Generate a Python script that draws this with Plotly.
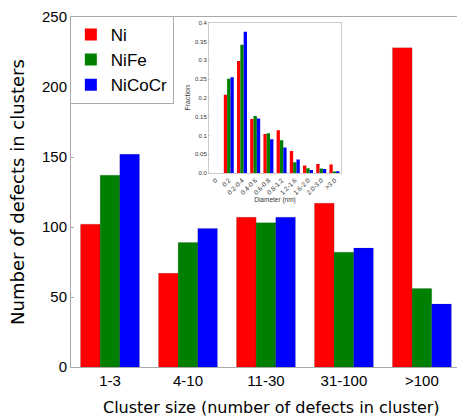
import plotly.graph_objects as go

# Main chart: defects per cluster-size bin
cluster_sizes = ["1-3", "4-10", "11-30", "31-100", ">100"]
ni_counts = [102, 67, 107, 117, 228]
nife_counts = [137, 89, 103, 82, 56]
nicocr_counts = [152, 99, 107, 85, 45]

# Inset: cluster diameter distribution
diameter_bins = ["0", "0.2", "0.2-0.4", "0.4-0.6", "0.6-0.8", "0.8-1.2",
                 "1.2-1.6", "1.6-2.0", "2.0-3.0", ">3.0"]
ni_frac = [0, 0.208, 0.298, 0.144, 0.104, 0.114, 0.059, 0.020, 0.024, 0.023]
nife_frac = [0, 0.251, 0.341, 0.152, 0.106, 0.087, 0.029, 0.013, 0.012, 0.002]
nicocr_frac = [0, 0.255, 0.376, 0.145, 0.090, 0.068, 0.036, 0.008, 0.011, 0.005]

fraction_ticks = [0, 0.05, 0.1, 0.15, 0.2, 0.25, 0.3, 0.35, 0.4]
fraction_labels = ["0.0", "0.05", "0.1", "0.15", "0.2", "0.25", "0.3", "0.35", "0.4"]

names = ["Ni", "NiFe", "NiCoCr"]
colors = ["#ff0000", "#008000", "#0000ff"]

fig = go.Figure()

for name, color, vals in zip(names, colors, [ni_counts, nife_counts, nicocr_counts]):
    fig.add_trace(go.Bar(x=cluster_sizes, y=vals, name=name, showlegend=False,
                         marker=dict(color=color, line=dict(width=0.5, color="rgba(0,0,0,0.25)")),
                         xaxis="x", yaxis="y"))

for name, color, vals in zip(names, colors, [ni_frac, nife_frac, nicocr_frac]):
    fig.add_trace(go.Bar(x=diameter_bins, y=vals, name=name, showlegend=False,
                         marker=dict(color=color, line=dict(width=0)),
                         xaxis="x2", yaxis="y2"))

# Legend entries with large square swatches
for name, color in zip(names, colors):
    fig.add_trace(go.Scatter(x=[None], y=[None], mode="markers", name=name,
                             marker=dict(symbol="square", size=16, color=color),
                             xaxis="x", yaxis="y"))

axis_gray = "#aaaaaa"

fig.update_layout(
    width=457, height=420,
    margin=dict(l=71, r=0, t=17, b=53),
    paper_bgcolor="white", plot_bgcolor="white",
    barmode="group", bargap=0.245, bargroupgap=0,
    font=dict(family="Liberation Sans, Arial, sans-serif", color="black"),
    xaxis=dict(
        domain=[0, 1], range=[-0.5, 4.45],
        showline=True, linecolor=axis_gray, linewidth=1, mirror=True,
        ticks="", showgrid=False, zeroline=False,
        tickfont=dict(size=15),
    ),
    yaxis=dict(
        domain=[0, 1], range=[0, 250],
        tickvals=[0, 50, 100, 150, 200, 250],
        showline=True, linecolor=axis_gray, linewidth=1,
        ticks="inside", ticklen=3, tickcolor=axis_gray,
        showgrid=False, zeroline=False,
        tickfont=dict(size=15),
        title=dict(text="Number of defects in clusters",
                   font=dict(family="DejaVu Sans, sans-serif", size=18), standoff=12),
    ),
    xaxis2=dict(
        domain=[0.3575, 0.6995], range=[-0.5, 9.5], anchor="y2",
        showline=True, linecolor="#cccccc", linewidth=1, mirror=True,
        ticks="", showgrid=False, zeroline=False,
        tickangle=-45, tickfont=dict(size=6.5, color="#333333"),
        title=dict(text="Diameter (nm)", font=dict(size=6.5, color="#333333"), standoff=2),
    ),
    yaxis2=dict(
        domain=[0.554, 0.984], range=[0, 0.4], anchor="x2",
        showline=True, linecolor="#cccccc", linewidth=1, mirror=True,
        tickvals=fraction_ticks, ticktext=fraction_labels,
        ticks="inside", ticklen=1.5, tickcolor="#cccccc",
        showgrid=False, zeroline=False,
        tickfont=dict(size=6, color="#333333"),
        title=dict(text="Fraction", font=dict(size=7, color="#333333"), standoff=3),
    ),
    legend=dict(
        x=-0.003, y=1.003, xanchor="left", yanchor="top",
        bgcolor="white", bordercolor=axis_gray, borderwidth=1,
        font=dict(size=17, family="Liberation Sans, Arial, sans-serif"),
        itemsizing="constant", tracegroupgap=0,
    ),
    annotations=[dict(
        text="Cluster size (number of defects in cluster)",
        xref="paper", yref="paper", x=0.519, y=-0.117,
        xanchor="center", yanchor="middle", showarrow=False,
        font=dict(family="DejaVu Sans, sans-serif", size=16),
    )],
)

fig.write_html("out.html")
